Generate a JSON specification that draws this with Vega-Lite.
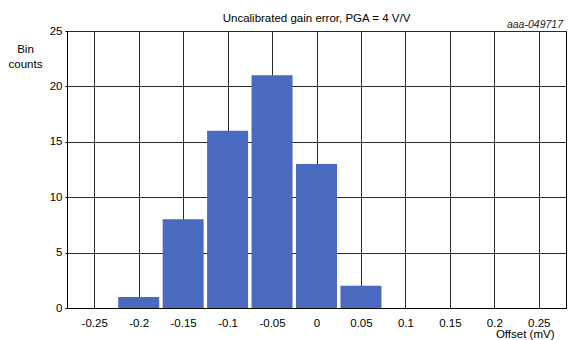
{
  "$schema": "https://vega.github.io/schema/vega-lite/v6.json",
  "autosize": "none",
  "width": 499,
  "height": 277,
  "padding": {"left": 67, "top": 31, "right": 4, "bottom": 32},
  "background": "white",
  "config": {
    "font": "Liberation Sans",
    "view": {"stroke": "#000000", "strokeWidth": 1}
  },
  "title": {
    "text": "Uncalibrated gain error, PGA = 4 V/V",
    "font": "Liberation Sans",
    "fontSize": 11.5,
    "fontWeight": "normal",
    "color": "#000000",
    "anchor": "middle",
    "baseline": "alphabetic",
    "offset": 8,
    "dy": 21
  },
  "data": {
    "values": [
      {"offset": -0.2, "count": 1},
      {"offset": -0.15, "count": 8},
      {"offset": -0.1, "count": 16},
      {"offset": -0.05, "count": 21},
      {"offset": 0, "count": 13},
      {"offset": 0.05, "count": 2}
    ]
  },
  "layer": [
    {
      "mark": {"type": "bar", "size": 41, "color": "#4a6abf"},
      "encoding": {
        "x": {
          "field": "offset",
          "type": "quantitative",
          "scale": {"domain": [-0.275, 0.275], "nice": false, "zero": false},
          "axis": {
            "values": [-0.25, -0.2, -0.15, -0.1, -0.05, 0, 0.05, 0.1, 0.15, 0.2, 0.25],
            "labelExpr": "'' + datum.value",
            "grid": true,
            "gridColor": "#2a2a2a",
            "gridWidth": 1,
            "gridOpacity": 1,
            "domainColor": "#000000",
            "domainWidth": 1,
            "ticks": false,
            "labelPadding": 9,
            "labelFontSize": 11.5,
            "labelColor": "#000000",
            "labelFont": "Liberation Sans",
            "title": "Offset (mV)",
            "titleFont": "Liberation Sans",
            "titleFontSize": 11.5,
            "titleFontWeight": "normal",
            "titleColor": "#000000",
            "titleAnchor": "end",
            "titleAlign": "right",
            "titleBaseline": "alphabetic",
            "titleX": 487,
            "titleY": 29
          }
        },
        "y": {
          "field": "count",
          "type": "quantitative",
          "scale": {"domain": [0, 25], "nice": false},
          "axis": {
            "values": [0, 5, 10, 15, 20, 25],
            "grid": true,
            "gridColor": "#2a2a2a",
            "gridWidth": 1,
            "gridOpacity": 1,
            "domainColor": "#000000",
            "domainWidth": 1,
            "tickSize": 2,
            "tickColor": "#000000",
            "labelPadding": 3,
            "labelFontSize": 11.5,
            "labelColor": "#000000",
            "labelFont": "Liberation Sans",
            "title": ["Bin", "counts"],
            "titleFont": "Liberation Sans",
            "titleFontSize": 11.5,
            "titleFontWeight": "normal",
            "titleColor": "#000000",
            "titleAngle": 0,
            "titleAlign": "center",
            "titleBaseline": "alphabetic",
            "titleLineHeight": 15,
            "titleX": -42,
            "titleY": 21
          }
        }
      }
    },
    {
      "data": {"values": [{"label": "aaa-049717", "x": 0.275, "y": 25}]},
      "mark": {
        "type": "text",
        "align": "right",
        "baseline": "alphabetic",
        "dy": -3,
        "dx": 2,
        "font": "Liberation Sans",
        "fontSize": 10.5,
        "fontStyle": "italic",
        "color": "#222222"
      },
      "encoding": {
        "x": {"field": "x", "type": "quantitative"},
        "y": {"field": "y", "type": "quantitative"},
        "text": {"field": "label"}
      }
    }
  ]
}
